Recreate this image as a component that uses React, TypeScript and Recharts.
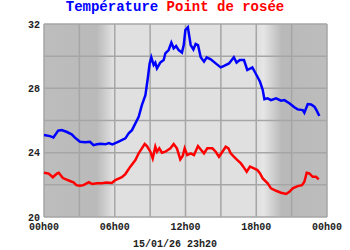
import React from "react";
import { LineChart, Line, XAxis, YAxis, CartesianGrid } from "recharts";

// hours since midnight, temperature (°C)
const tempHours = [
  0, 0.5, 0.8, 1.2, 1.5, 1.9, 2.35, 2.6, 3.05, 3.5, 3.9, 4.2, 4.5, 4.8, 5.2, 5.5, 5.8, 6.0,
  6.33, 6.9, 7.18, 7.46, 7.75, 8.03, 8.3, 8.6, 8.82, 8.96, 9.1, 9.3, 9.44, 9.58, 9.86, 10.15,
  10.29, 10.57, 10.8, 11.0, 11.2, 11.42, 11.7, 11.85, 11.99, 12.2, 12.44, 12.67, 12.86, 13.06,
  13.29, 13.57, 13.8, 14.14, 14.56, 14.99, 15.27, 15.69, 16.1, 16.33, 16.61, 16.96, 17.24,
  17.67, 17.87, 18.1, 18.32, 18.55, 18.69, 18.97, 19.25, 19.68, 20.1, 20.38, 20.81, 21.23,
  21.51, 21.94, 22.08, 22.37, 22.65, 22.93, 23.13, 23.35,
];
const tempValues = [
  25.1, 25.03, 24.95, 25.37, 25.4, 25.3, 25.14, 24.95, 24.68, 24.65, 24.68, 24.47, 24.52, 24.56,
  24.52, 24.6, 24.52, 24.58, 24.68, 24.89, 25.2, 25.4, 25.82, 26.23, 26.96, 27.58, 28.72, 29.55,
  29.93, 29.45, 29.6, 29.24, 29.6, 29.76, 30.18, 30.38, 30.84, 30.49, 30.63, 30.38, 30.22, 30.69,
  31.63, 31.8, 30.69, 30.42, 30.76, 30.69, 29.93, 29.66, 29.93, 29.8, 29.55, 29.3, 29.39, 29.55,
  29.93, 29.6, 29.76, 29.76, 29.14, 29.3, 29.03, 28.72, 28.41, 27.9, 27.32, 27.38, 27.27, 27.38,
  27.23, 27.27, 27.07, 26.82, 26.69, 26.65, 26.48, 27.02, 27.0, 26.86, 26.61, 26.28,
];

// hours since midnight, dew point (°C)
const dewHours = [
  0, 0.4, 0.75, 1.1, 1.25, 1.6, 2.2, 2.5, 2.75, 3.05, 3.35, 3.8, 4.1, 4.5, 4.9, 5.3, 5.75, 6.05,
  6.6, 6.9, 7.32, 7.75, 8.03, 8.3, 8.54, 8.73, 9.02, 9.22, 9.44, 9.58, 9.78, 10.0, 10.29, 10.72,
  11.0, 11.27, 11.56, 11.76, 11.93, 12.15, 12.44, 12.72, 13.06, 13.29, 13.57, 13.85, 14.28,
  14.56, 14.84, 15.13, 15.41, 15.64, 15.83, 16.1, 16.4, 16.7, 16.9, 17.19, 17.47, 17.81, 18.1,
  18.32, 18.55, 18.97, 19.25, 19.68, 20.1, 20.53, 20.81, 21.09, 21.51, 21.88, 22.08, 22.28,
  22.5, 22.79, 23.07, 23.3,
];
const dewValues = [
  22.75, 22.7, 22.47, 22.7, 22.75, 22.42, 22.24, 22.16, 21.98, 21.94, 21.98, 22.16, 22.05, 22.1,
  22.1, 22.14, 22.12, 22.3, 22.47, 22.67, 23.13, 23.54, 23.96, 24.27, 24.54, 24.41, 24.06, 23.64,
  24.37, 24.06, 24.27, 24.0, 24.06, 24.27, 24.54, 24.27, 23.58, 23.79, 24.27, 23.85, 23.96, 23.85,
  24.41, 24.2, 23.96, 24.27, 24.27, 24.06, 23.75, 24.06, 24.37, 24.27, 23.96, 23.75, 23.54, 23.33,
  23.13, 22.82, 23.13, 23.03, 22.92, 22.71, 22.4, 22.09, 21.78, 21.63, 21.51, 21.43, 21.57, 21.78,
  21.92, 21.98, 22.19, 22.75, 22.71, 22.5, 22.5, 22.34,
];

const xTicks = [0, 3, 6, 9, 12, 15, 18, 21, 24];
const yTicks = [20, 22, 24, 26, 28, 30, 32];
const title = ["Température", "Point de rosée"];
const stamp = "15/01/26 23h20";

const tempData = tempHours.map((h, i) => ({ h, v: tempValues[i] }));
const dewData = dewHours.map((h, i) => ({ h, v: dewValues[i] }));

const mono = "'Liberation Mono', 'Courier New', monospace";
const tickStyle = { fontFamily: mono, fontWeight: "bold", fontSize: 10, fill: "#222" };

const fmtHour = (h: number) =>
  h % 6 === 0 ? `${String(h % 24).padStart(2, "0")}h00` : "";

export default function App() {
  return (
    <div style={{ position: "absolute", left: 0, top: 0, width: 350, height: 250, background: "#fff" }}>
      <div
        style={{
          position: "absolute",
          top: 0,
          left: 0,
          width: 350,
          textAlign: "center",
          fontFamily: mono,
          fontWeight: "bold",
          fontSize: 14,
          lineHeight: "14px",
          whiteSpace: "pre",
        }}>
        <span style={{ color: "#0000ff" }}>{title[0]}</span>{" "}
        <span style={{ color: "#ff0000" }}>{title[1]}</span>
      </div>
      <LineChart width={350} height={250} margin={{ top: 24, right: 23, bottom: 0, left: 0 }}>
        <defs>
          <linearGradient id="daylight" x1="0" y1="0" x2="1" y2="0">
            <stop offset="0" stopColor="#bdbdbd" />
            <stop offset="0.187" stopColor="#bababa" />
            <stop offset="0.244" stopColor="#e0e0e0" />
            <stop offset="0.755" stopColor="#e0e0e0" />
            <stop offset="0.775" stopColor="#e6e6e6" />
            <stop offset="0.84" stopColor="#b9b9b9" />
            <stop offset="1" stopColor="#bdbdbd" />
          </linearGradient>
        </defs>
        <CartesianGrid stroke="#a6a6a6" strokeWidth={1.5} fill="url(#daylight)" fillOpacity={1} />
        <XAxis
          dataKey="h"
          type="number"
          domain={[0, 24]}
          ticks={xTicks}
          tickFormatter={fmtHour}
          axisLine={false}
          tickLine={false}
          tickSize={0}
          tickMargin={6}
          height={33}
          interval={0}
          tick={tickStyle}
        />
        <YAxis
          domain={[20, 32]}
          ticks={yTicks}
          tickFormatter={(v: number) => (v % 4 === 0 ? String(v) : "")}
          axisLine={false}
          tickLine={false}
          tickSize={0}
          tickMargin={4}
          width={44}
          interval={0}
          tick={tickStyle}
        />
        <Line data={tempData} dataKey="v" type="linear" stroke="#0000ff" strokeWidth={2.5} dot={false} isAnimationActive={false} />
        <Line data={dewData} dataKey="v" type="linear" stroke="#ff0000" strokeWidth={2.5} dot={false} isAnimationActive={false} />
      </LineChart>
      <div
        style={{
          position: "absolute",
          top: 240,
          left: 0,
          width: 350,
          textAlign: "center",
          fontFamily: mono,
          fontWeight: "bold",
          fontSize: 10,
          lineHeight: "10px",
          color: "#222",
        }}>
        {stamp}
      </div>
    </div>
  );
}
